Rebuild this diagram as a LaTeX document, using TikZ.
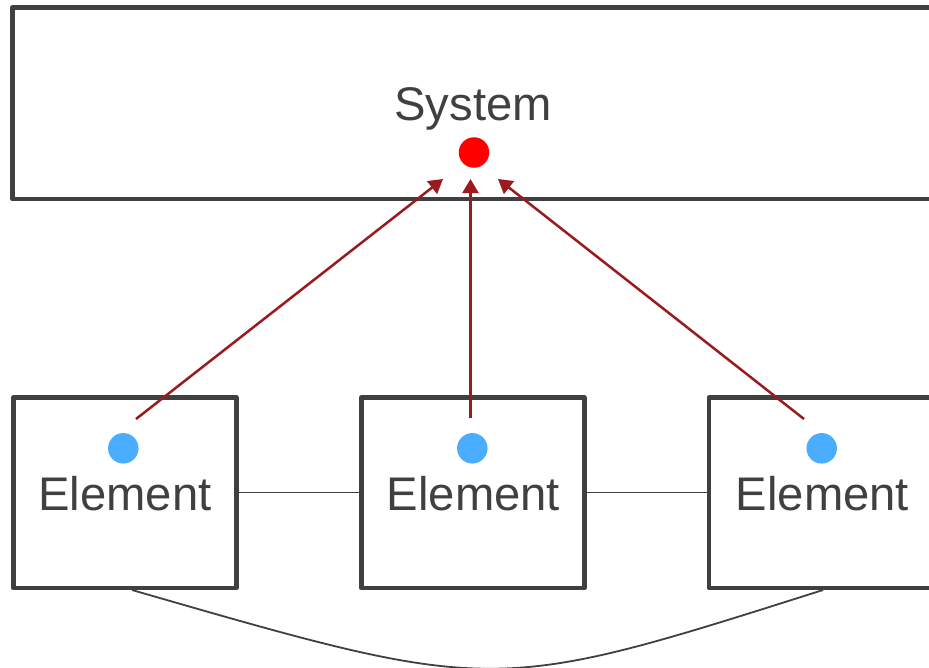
\documentclass[tikz,border=0pt]{standalone}
\usepackage{fontspec}
\setmainfont{Liberation Sans}
\usetikzlibrary{arrows.meta}
\definecolor{boxgray}{HTML}{404040}
\definecolor{arrowred}{HTML}{991B1E}
\definecolor{dotblue}{HTML}{4AADFF}
\definecolor{dotred}{HTML}{FF0000}
\tikzset{
  sysbox/.style={draw=boxgray, line width=4.5pt, line join=round, rectangle, inner sep=0pt,
    minimum width=919.5pt, minimum height=191.5pt},
  elbox/.style={draw=boxgray, line width=4.5pt, line join=round, rectangle, inner sep=0pt,
    minimum width=223pt, minimum height=190.5pt},
  lbl/.style={text=boxgray, inner sep=0pt, anchor=base, font=\fontsize{47.2}{52}\selectfont},
  bluedot/.style={circle, fill=dotblue, inner sep=0pt, minimum size=30.5pt},
  reddot/.style={circle, fill=dotred, inner sep=0pt, minimum size=30.5pt},
  link/.style={draw=boxgray, line width=1.5pt},
  uparrow/.style={draw=arrowred, line width=2.5pt, -{Triangle[length=14pt,width=16pt]}}
}
\begin{document}
\begin{tikzpicture}[x=1pt,y=-1pt]
\useasboundingbox (0,0) rectangle (929,667);
\clip (0,0) rectangle (929,667);
\fill[white] (0,0) rectangle (929,667);
% system box
\node[sysbox] (sys) at (472.25,103.25) {};
\node[lbl] (systxt) at (473,120) {System};
\node[reddot] (rdot) at (474,152.5) {};
% element boxes
\node[elbox] (e1) at (124.75,492.75) {};
\node[elbox] (e2) at (472.75,492.75) {};
\node[elbox] (e3) at (820.5,492.75) {};
\node[lbl] (t1) at (125,510.5) {Element};
\node[lbl] (t2) at (473.4,510.5) {Element};
\node[lbl] (t3) at (822.5,510.5) {Element};
\node[bluedot] (b1) at (123.3,448.3) {};
\node[bluedot] (b2) at (472.3,448.3) {};
\node[bluedot] (b3) at (821.7,448.3) {};
% horizontal links
\draw[link] (e1.east |- 0,492.3) -- (e2.west |- 0,492.3);
\draw[link] (e2.east |- 0,492.3) -- (e3.west |- 0,492.3);
% arrow endpoints
\coordinate (s1) at (136,419);
\coordinate (s2) at (470.5,418);
\coordinate (s3) at (804,419);
\coordinate (h1) at (443,179);
\coordinate (h2) at (470.5,179);
\coordinate (h3) at (498,179);
\draw[uparrow] (s1) -- (h1);
\draw[uparrow] (s2) -- (h2);
\draw[uparrow] (s3) -- (h3);
% bottom curve
\coordinate (c1) at (132,590);
\coordinate (c3) at (823,590);
\draw[boxgray, line width=1.8pt] (c1) .. controls (496,695) and (492,695) .. (c3);
\end{tikzpicture}
\end{document}
